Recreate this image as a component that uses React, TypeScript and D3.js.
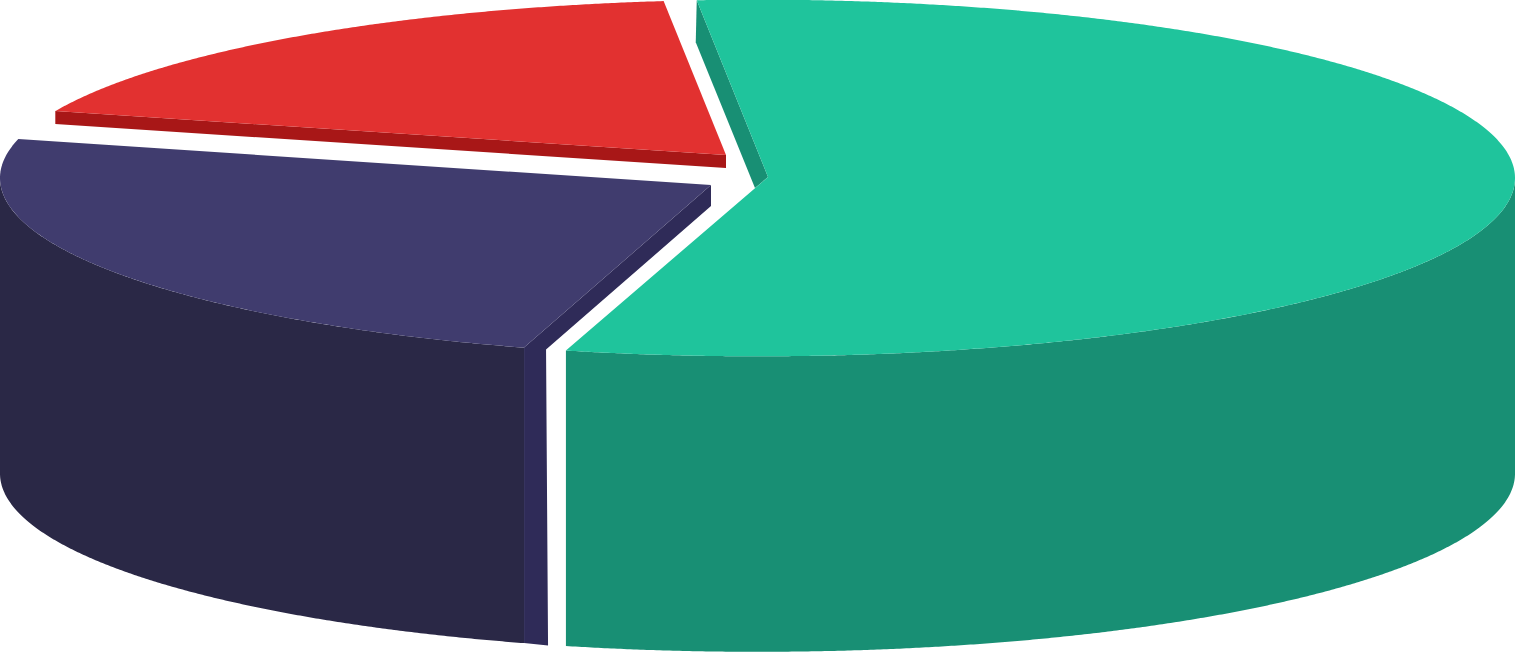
import React from "react";
import * as d3 from "d3";

// Slice spans (in degrees of the pie), in clockwise order, with the exploded gaps between them
const categories = ["Green", "Gap A", "Purple", "Gap B", "Red", "Gap C"];
const spans = [199.25, 3.3, 84.68, 9.4, 60.85, 2.52];
const topColors = ["#1fc49c", null, "#403c6e", null, "#e23130", null];
const sideColors = ["#188f74", null, "#2a2846", null, "#a81717", null];
const wallColors = ["#188f74", null, "#2f2b58", null, "#a81717", null];

const W = 1515;
const H = 653;
const CX = 757.5;
const CY = 178;
const RX = 757.5;
const RY = 178.3;
const DEPTH = 295.5;
const START_DEG = -4.6;

const rad = (d: number) => (d * Math.PI) / 180;
const deg = (r: number) => (r * 180) / Math.PI;

const xScale = d3.scaleLinear().domain([-1, 1]).range([CX - RX, CX + RX]);
const yScale = d3.scaleLinear().domain([-1, 1]).range([CY - RY, CY + RY]);

type P = [number, number];
const onRim = (a: number, dy = 0): P => [xScale(Math.sin(rad(a))), yScale(-Math.cos(rad(a))) + dy];
const rim = (a0: number, a1: number, dy = 0): P[] => {
  const n = Math.ceil(Math.abs(a1 - a0) * 4);
  return d3.range(n + 1).map((i) => onRim(a0 + ((a1 - a0) * i) / n, dy));
};
const apexAt = (dx: number, dy: number): P => [CX + dx, CY + dy];
const add = (p: P, dx: number, dy: number): P => [p[0] + dx, p[1] + dy];
const line = d3.line<P>();
const closed = (pts: P[]) => line(pts) + "Z";

const arcs = d3
  .pie<number>()
  .sort(null)
  .value((d) => d)
  .startAngle(rad(START_DEG))
  .endAngle(rad(START_DEG + 360))(spans);

const ang = (i: number): [number, number] => [deg(arcs[i].startAngle), deg(arcs[i].endAngle)];

export default function App() {
  const [g0, g1] = ang(0);
  const [p0, p1] = ang(2);
  const [r0, r1] = ang(4);

  const gApex = apexAt(10.5, -1);
  const pApex = apexAt(-46.5, 7);
  const rApex = apexAt(-31.5, -23);

  const gStart = onRim(g0);
  const pEnd = onRim(p0);
  const rStart = onRim(r0);

  return (
    <svg
      width={W}
      height={H}
      viewBox={`0 0 ${W} ${H}`}
      style={{ position: "absolute", left: 0, top: 0, display: "block" }}
    >
      <g data-name={categories[0]}>
        <path
          d={closed([gStart, add(gStart, -1, 42), add(gApex, -13, 11), gApex])}
          fill={wallColors[0]!}
        />
        <path d={closed([...rim(90, g1), ...rim(g1, 90, DEPTH)])} fill={sideColors[0]!} />
        <path d={closed([gApex, ...rim(g0, g1)])} fill={topColors[0]!} />
      </g>
      <g data-name={categories[2]}>
        <path d={closed([...rim(p0, 270), ...rim(270, p0, DEPTH)])} fill={sideColors[2]!} />
        <path
          d={closed([
            pEnd,
            pApex,
            add(pApex, 0, 21),
            add(pEnd, 22, 2),
            add(pEnd, 24, 298),
            add(pEnd, 0, DEPTH),
          ])}
          fill={wallColors[2]!}
        />
        <path d={closed([pApex, ...rim(p0, p1)])} fill={topColors[2]!} />
      </g>
      <g data-name={categories[4]}>
        <path
          d={closed([rStart, rApex, add(rApex, 0, 13), add(rStart, 0, 13)])}
          fill={wallColors[4]!}
        />
        <path d={closed([rApex, ...rim(r0, r1)])} fill={topColors[4]!} />
      </g>
    </svg>
  );
}
